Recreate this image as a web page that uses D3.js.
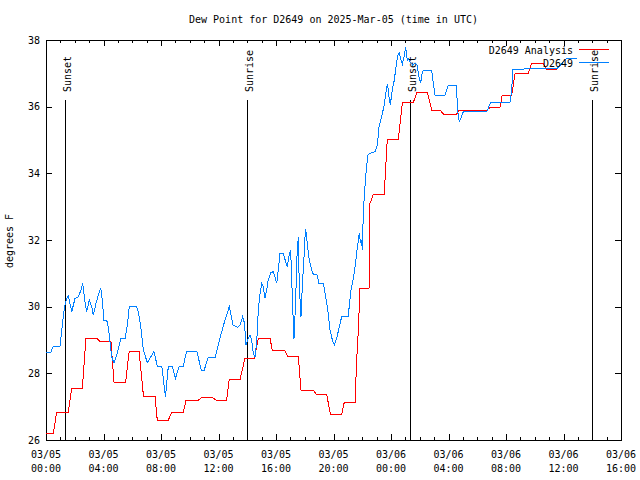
<!DOCTYPE html>
<html><head><meta charset="utf-8">
<script src="https://cdn.jsdelivr.net/npm/d3@7"></script>
<style>
body{margin:0;background:#fff}
text{font-family:"DejaVu Sans Mono","Liberation Mono",monospace;font-size:10px;fill:#000}
</style></head>
<body><svg id="c" width="640" height="480"></svg>
<script>
// ---- data (hours after 2025-03-05 00:00 UTC, dew point in F) ----
const titleText = "Dew Point for D2649 on 2025-Mar-05 (time in UTC)";
const yLabel = "degrees F";
const seriesNames = ["D2649 Analysis", "D2649"];
const yTicks = [26, 28, 30, 32, 34, 36, 38];

const anaHours = [0,0.51,0.74,1.55,1.79,2.53,2.78,3.53,3.76,4.52,4.73,5.54,5.79,6.47,6.78,7.58,7.74,8.51,8.74,9.55,9.74,10.59,10.83,11.53,11.83,12.57,12.75,13.50,13.84,14.49,14.77,15.58,15.74,16.58,16.81,17.55,17.74,18.59,18.83,19.53,19.78,20.57,20.75,21.50,21.61,21.73,21.84,22.47,22.54,22.77,23.53,23.74,24.51,24.79,25.55,25.79,26.53,26.83,27.41,27.64,28.57,28.75,30.66,30.89,31.58,31.74,32.40,32.63,33.55,33.79,34.59,34.78,35.53];
const anaDew   = [26.2,26.2,26.83,26.83,27.56,27.56,29.05,29.05,28.95,28.95,27.74,27.74,28.67,28.67,27.32,27.32,26.6,26.6,26.83,26.83,27.19,27.19,27.28,27.28,27.2,27.2,27.82,27.82,28.45,28.45,29.06,29.06,28.7,28.7,28.52,28.52,27.5,27.5,27.36,27.36,26.78,26.78,27.13,27.13,28.4,29.3,30.55,30.55,33.1,33.37,33.37,35.03,35.03,36.12,36.12,36.42,36.42,35.9,35.9,35.78,35.78,35.9,35.9,35.97,35.97,36.35,36.35,37.0,37.0,37.3,37.3,37.13,37.13];

const obsHours = [0,0.33,0.51,0.63,0.97,1.09,1.20,1.32,1.43,1.55,1.79,2.02,2.25,2.48,2.55,2.71,2.83,3.01,3.18,3.29,3.48,3.64,3.81,3.87,4.03,4.22,4.33,4.45,4.57,4.73,4.92,5.10,5.22,5.50,5.66,5.79,6.31,6.42,6.59,6.77,7.05,7.23,7.51,7.74,8.05,8.16,8.31,8.51,8.77,9.01,9.27,9.55,9.77,10.50,10.80,11.01,11.27,11.76,12.10,12.45,12.75,13.01,13.34,13.50,13.68,13.81,13.91,14.02,14.19,14.31,14.42,14.54,14.66,14.77,14.89,15.01,15.12,15.23,15.35,15.46,15.65,15.81,15.93,16.05,16.16,16.28,16.51,16.67,16.79,16.90,17.02,17.09,17.16,17.25,17.37,17.44,17.55,17.62,17.74,17.83,17.95,18.02,18.07,18.16,18.30,18.48,18.59,18.83,18.99,19.29,19.46,19.60,19.76,19.92,20.06,20.22,20.45,20.57,21.03,21.11,21.22,21.38,21.50,21.61,21.73,21.79,21.89,21.96,22.00,22.07,22.14,22.24,22.38,22.54,22.89,23.05,23.17,23.35,23.53,23.70,23.77,23.86,23.95,24.09,24.23,24.35,24.47,24.58,24.70,24.79,24.93,25.02,25.13,25.20,25.32,25.51,25.67,25.81,25.97,26.07,26.18,26.30,26.83,26.94,27.06,27.76,27.99,28.57,28.61,28.75,28.92,29.03,30.66,30.94,32.28,32.40,32.47,33.20,33.32,35.53,36.22,36.92];
const obsDew   = [28.63,28.63,28.82,28.8,28.8,29.25,29.7,30.05,30.25,30.32,29.85,30.25,30.3,30.55,30.72,30.15,29.85,30.2,30.0,29.75,30.1,30.35,30.55,30.4,29.6,29.6,29.4,28.95,28.5,28.3,28.55,28.85,29.05,29.05,29.45,30.0,30.0,29.85,29.4,28.7,28.32,28.45,28.65,28.22,28.22,27.85,27.28,28.22,28.22,27.85,28.22,28.22,28.65,28.65,28.1,28.1,28.47,28.47,29.05,29.6,30.0,29.45,29.38,29.45,29.7,29.5,28.85,29.0,29.15,29.0,28.6,28.5,28.95,29.9,30.4,30.7,30.6,30.25,30.5,30.8,31.02,31.05,30.9,30.7,31.1,31.6,31.6,31.35,31.2,31.52,31.7,30.85,30.0,29.02,30.2,31.35,32.1,30.6,29.7,30.6,31.5,32.1,32.32,31.95,31.45,31.1,30.98,30.98,30.7,30.7,30.3,29.9,29.3,29.0,28.85,29.05,29.48,29.7,29.7,30.1,30.5,30.85,31.2,31.6,32.0,32.2,31.9,32.0,31.7,32.75,33.3,33.9,34.55,34.6,34.65,34.85,35.4,35.7,36.05,36.6,36.65,36.3,36.05,36.5,36.8,37.2,37.55,37.6,37.4,37.28,37.55,37.8,37.4,37.45,37.35,37.25,37.3,37.25,36.85,36.72,37.05,37.1,37.1,36.7,36.35,36.35,36.65,36.65,35.95,35.55,35.72,35.85,35.85,36.13,36.13,36.5,37.12,37.12,37.15,37.13,37.45,37.45];

const eventHours  = [1.38, 14.03, 25.38, 38.03];
const eventLabels = ["Sunset", "Sunrise", "Sunset", "Sunrise"];

// ---- layout ----
const svg = d3.select("#c");
const L = 46, R = 621, T = 40, B = 440;
const start = Date.UTC(2025, 2, 5, 0, 0);
const toDate = h => new Date(start + h * 3600000);
const x = d3.scaleUtc().domain([toDate(0), toDate(40)]).range([L, R]);
const y = d3.scaleLinear().domain([26, 38]).range([B, T]);
const gy = d3.scaleLinear().domain([0, 1]).range([B, T]);
const colors = ["#ff0000", "#0080ff"];

const crisp = g => g.attr("shape-rendering", "crispEdges");

// title
svg.append("text").attr("x", (L + R) / 2).attr("y", 23).attr("text-anchor", "middle").text(titleText);
// y label
svg.append("text").attr("transform", "translate(12.5,241) rotate(-90)").attr("text-anchor", "middle").text(yLabel);

// axes ticks
const majorEvery = d3.utcHour.every(4), minorEvery = d3.utcHour.every(1);
function tickAxis(axis, tx, ty) {
  const g = svg.append("g").attr("transform", `translate(${tx},${ty})`).call(axis).call(crisp);
  g.select(".domain").remove();
  g.selectAll("line").attr("stroke", "#000");
  return g;
}
tickAxis(d3.axisBottom(x).ticks(minorEvery).tickSize(-3).tickFormat(""), 0, B);
tickAxis(d3.axisBottom(x).ticks(majorEvery).tickSize(-6).tickFormat(""), 0, B);
tickAxis(d3.axisTop(x).ticks(minorEvery).tickSize(-3).tickFormat(""), 0, T);
tickAxis(d3.axisTop(x).ticks(majorEvery).tickSize(-6).tickFormat(""), 0, T);
const yl = tickAxis(d3.axisLeft(y).tickValues(yTicks).tickSize(-6).tickPadding(6).tickFormat(d3.format("d")), L, 0);
yl.selectAll("text").attr("fill", "#000");
yl.attr("font-family", null).attr("font-size", null);
tickAxis(d3.axisRight(y).tickValues(yTicks).tickSize(-6).tickFormat(""), R, 0);

// x labels two lines
const fmtD = d3.utcFormat("%m/%d"), fmtT = d3.utcFormat("%H:%M");
const xl = svg.append("g").selectAll("text").data(x.ticks(majorEvery)).join("text")
  .attr("text-anchor", "middle");
xl.append("tspan").attr("x", d => x(d)).attr("y", 458).text(fmtD);
xl.append("tspan").attr("x", d => x(d)).attr("y", 472).text(fmtT);

// border
svg.append("rect").attr("x", L).attr("y", T).attr("width", R - L).attr("height", B - T)
  .attr("fill", "none").attr("stroke", "#000").call(crisp);

// sunrise / sunset markers
const ev = svg.append("g");
eventHours.forEach((h, i) => {
  const ex = x(toDate(h));
  ev.append("line").attr("x1", ex).attr("x2", ex).attr("y1", gy(0)).attr("y2", gy(0.85))
    .attr("stroke", "#000").call(crisp);
  ev.append("text").attr("transform", `translate(${ex + 5.5},${gy(0.87)}) rotate(-90)`)
    .attr("text-anchor", "start").text(eventLabels[i]);
});

// lines
const line = d3.line().x(d => x(toDate(d[0]))).y(d => y(d[1]));
const ana = anaHours.map((h, i) => [h, anaDew[i]]);
const obs = obsHours.map((h, i) => [h, obsDew[i]]);
[ana, obs].forEach((s, i) => {
  svg.append("path").datum(s).attr("d", line).attr("fill", "none")
    .attr("stroke", colors[i]).attr("stroke-width", 1).call(crisp);
});

// legend
seriesNames.forEach((n, i) => {
  const ly = 49.5 + i * 13;
  svg.append("text").attr("x", 573).attr("y", ly + 4).attr("text-anchor", "end").text(n);
  svg.append("line").attr("x1", 579).attr("x2", 609).attr("y1", ly).attr("y2", ly)
    .attr("stroke", colors[i]).call(crisp);
});
</script></body></html>
